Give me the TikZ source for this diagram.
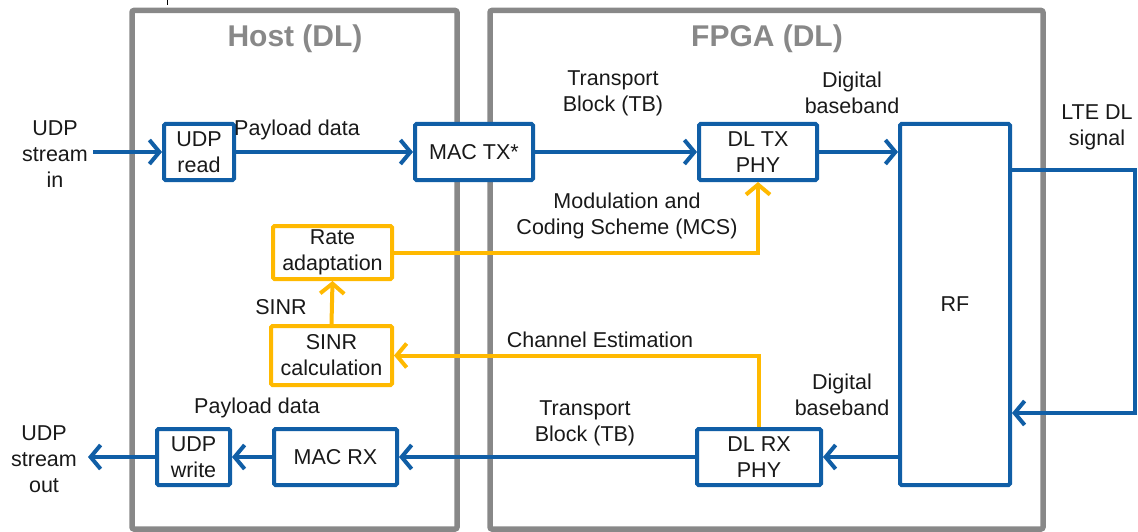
\documentclass[tikz,border=0pt]{standalone}
\usepackage{fontspec}
\setmainfont{Liberation Sans}
\usetikzlibrary{arrows.meta}
\definecolor{myblue}{RGB}{16,94,166}
\definecolor{myyellow}{RGB}{255,185,0}
\definecolor{mygray}{RGB}{136,136,136}
\definecolor{mytext}{RGB}{25,25,25}
\tikzset{
  frame/.style={draw=mygray, line width=5.5pt, rounded corners=2pt, inner sep=0pt},
  title/.style={text=mygray, font=\fontsize{30}{34}\selectfont\bfseries, inner sep=0pt},
  blk/.style={draw=myblue, line width=4pt, fill=white, rounded corners=1.5pt, align=center, inner sep=0pt, text=mytext, font=\fontsize{21.5}{26}\selectfont},
  yblk/.style={blk, draw=myyellow},
  lbl/.style={align=center, inner sep=0pt, text=mytext, font=\fontsize{21.5}{26}\selectfont},
  barr/.style={draw=myblue, line width=4pt, -{Straight Barb[length=10pt, width=24pt]}},
  yarr/.style={draw=myyellow, line width=4pt, -{Straight Barb[length=10pt, width=24pt]}},
}
\begin{document}
\begin{tikzpicture}[x=1pt, y=-1pt]
\useasboundingbox (0,0) rectangle (1138,532);
% containers
\node[frame, minimum width=325pt, minimum height=518.5pt] (host) at (294.5,269.75) {};
\node[frame, minimum width=553pt, minimum height=518.5pt] (fpga) at (766.5,269.75) {};
\node[title] (hostt) at (295,39) {Host (DL)};
\node[title] (fpgat) at (767,39) {FPGA (DL)};
\draw[line width=1pt] (167,0) -- (167,5);
% blocks
\node[blk, minimum width=70pt, minimum height=56pt] (udpr) at (199,152) {UDP\\read};
\node[blk, minimum width=118pt, minimum height=56pt] (mactx) at (474,152) {MAC TX*};
\node[blk, minimum width=118pt, minimum height=56pt] (dltx) at (758,152) {DL TX\\PHY};
\node[blk, minimum width=110pt, minimum height=361pt] (rf) at (955,304.5) {RF};
\node[blk, minimum width=124pt, minimum height=56pt] (dlrx) at (759,457) {DL RX\\PHY};
\node[blk, minimum width=123pt, minimum height=56pt] (macrx) at (335.5,457) {MAC RX};
\node[blk, minimum width=73pt, minimum height=56pt] (udpw) at (193.5,457) {UDP\\write};
\node[yblk, minimum width=119pt, minimum height=53pt] (rate) at (332.5,252.5) {Rate\\adaptation};
\node[yblk, minimum width=121pt, minimum height=59pt] (sinr) at (331.5,355.5) {SINR\\calculation};
% free ends
\coordinate (inL) at (93,152);
\coordinate (outL) at (88,457);
\coordinate (lt) at (1135,170);
\coordinate (lb) at (1135,413);
% blue connectors
\draw[barr] (inL) -- (udpr.west);
\draw[barr] (udpr.east) -- (mactx.west);
\draw[barr] (mactx.east) -- (dltx.west);
\draw[barr] (dltx.east) -- (dltx.east -| rf.west);
\draw[barr] (lt -| rf.east) -- (lt) -- (lb) -- (lb -| rf.east);
\draw[barr] (dlrx.east -| rf.west) -- (dlrx.east);
\draw[barr] (dlrx.west) -- (macrx.east);
\draw[barr] (macrx.west) -- (udpw.east);
\draw[barr] (udpw.west) -- (outL);
% yellow connectors
\draw[yarr] (rate.east) -| (dltx.south);
\draw[yarr] (dlrx.north) |- (sinr.east);
\draw[yarr] (sinr.north) -- (rate.south);
% labels
\node[lbl] (lin) at (55,154) {UDP\\stream\\in};
\node[lbl] (lpay1) at (297,130) {Payload data};
\node[lbl] (ltb1) at (613,93) {Transport\\Block (TB)};
\node[lbl] (ldb1) at (852,93) {Digital\\baseband};
\node[lbl] (llte) at (1097,127) {LTE DL\\signal};
\node[lbl] (lmcs) at (627,216) {Modulation and\\Coding Scheme (MCS)};
\node[lbl] (lsinr) at (281,307) {SINR};
\node[lbl] (lce) at (600,340) {Channel Estimation};
\node[lbl] (ldb2) at (842,395) {Digital\\baseband};
\node[lbl] (ltb2) at (585,423) {Transport\\Block (TB)};
\node[lbl] (lpay2) at (257,408) {Payload data};
\node[lbl] (lout) at (44,459) {UDP\\stream\\out};
\end{tikzpicture}
\end{document}
